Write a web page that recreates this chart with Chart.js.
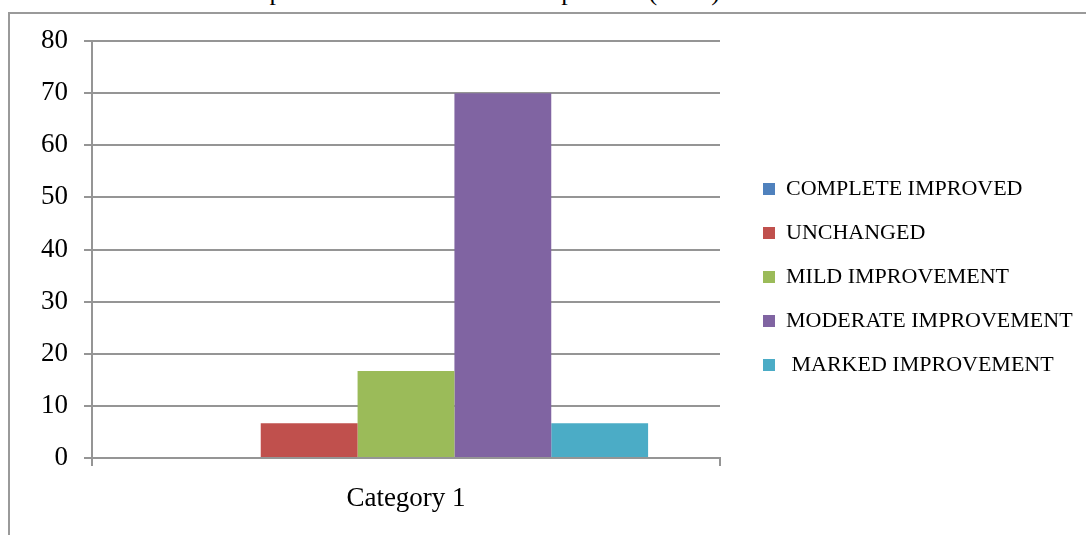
<!DOCTYPE html>
<html><head><meta charset="utf-8">
<script src="https://cdn.jsdelivr.net/npm/chart.js@4.4.1/dist/chart.umd.min.js"></script>
<style>
html,body{margin:0;padding:0;background:#fff;overflow:hidden;width:1086px;height:535px;}
#title{position:absolute;right:366px;top:-23px;font:26px/30px "Liberation Serif",serif;white-space:nowrap;color:#000;}
#frame{position:absolute;left:8px;top:12px;width:1100px;height:540px;border-left:2px solid #9a9a9a;border-top:2px solid #9a9a9a;}
#wrap{position:absolute;left:0;top:0;width:1086px;height:535px;}
</style></head><body>
<div id="title">Clinical improvement was observed in patients (on %)</div>
<div id="frame"></div>
<div id="wrap"><canvas id="c"></canvas></div>
<script>
const categories = ['Category 1'];
const seriesNames = ['COMPLETE IMPROVED', 'UNCHANGED', 'MILD IMPROVEMENT', 'MODERATE IMPROVEMENT', ' MARKED IMPROVEMENT'];
const completeImproved = [0];
const unchanged = [6.67];
const mildImprovement = [16.67];
const moderateImprovement = [70];
const markedImprovement = [6.67];
const seriesColors = ['#4f81bd', '#c0504d', '#9bbb59', '#8064a2', '#4bacc6'];
const yTicks = [0, 10, 20, 30, 40, 50, 60, 70, 80];

const seriesValues = [completeImproved, unchanged, mildImprovement, moderateImprovement, markedImprovement];
const FONT = '"Liberation Serif", serif';
const GRID = '#959595';

// measure legend width to place legend boxes at the right spot
const mctx = document.createElement('canvas').getContext('2d');
mctx.font = '22px ' + FONT;
let maxW = 0;
seriesNames.forEach(n => { maxW = Math.max(maxW, mctx.measureText(n).width); });
const legendW = 22 + 12 + 11 + maxW + 10;
const padRight = Math.max(0, 1086 - 741 - legendW);

new Chart(document.getElementById('c'), {
  type: 'bar',
  data: {
    labels: categories,
    datasets: seriesNames.map((n, i) => ({
      label: n,
      data: seriesValues[i],
      backgroundColor: seriesColors[i],
      borderWidth: 0,
      categoryPercentage: 0.771,
      barPercentage: 1
    }))
  },
  options: {
    responsive: true,
    maintainAspectRatio: false,
    animation: false,
    layout: { padding: { top: 41, bottom: 22, left: 0, right: padRight } },
    plugins: {
      tooltip: { enabled: false },
      legend: {
        position: 'right',
        align: 'center',
        maxWidth: 420,
        labels: {
          font: { family: FONT, size: 22 },
          color: '#000',
          boxWidth: 12,
          boxHeight: 12,
          padding: 22
        }
      }
    },
    scales: {
      x: {
        grid: { offset: true, drawOnChartArea: false, tickLength: 8, color: GRID, lineWidth: 2 },
        border: { color: GRID, width: 2 },
        ticks: { font: { family: FONT, size: 27 }, color: '#000', padding: 17 },
        afterFit: s => { s.height = 55; }
      },
      y: {
        min: 0, max: 80,
        ticks: { stepSize: 10, font: { family: FONT, size: 27 }, color: '#000', padding: 16 },
        afterBuildTicks: s => { s.ticks = yTicks.map(v => ({ value: v })); },
        grid: { color: GRID, lineWidth: 2, tickLength: 8 },
        border: { color: GRID, width: 2 },
        afterFit: s => { s.width = 92; }
      },
      y2: {
        position: 'right',
        grid: { display: false },
        ticks: { display: false },
        border: { display: false },
        afterFit: s => { s.width = 21; }
      }
    }
  }
});
</script>
</body></html>
